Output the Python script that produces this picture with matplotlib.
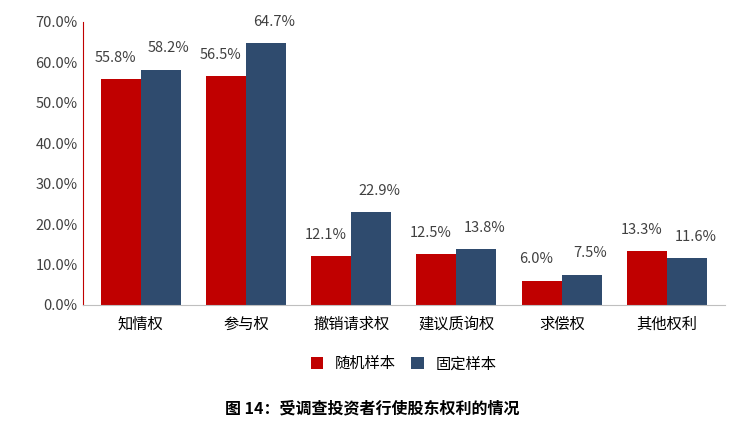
import matplotlib.pyplot as plt
import numpy as np

plt.rcParams['font.family'] = ['Noto Sans CJK SC', 'DejaVu Sans']

categories = ['知情权', '参与权', '撤销请求权', '建议质询权', '求偿权', '其他权利']
random_sample = [55.8, 56.5, 12.1, 12.5, 6.0, 13.3]
fixed_sample = [58.2, 64.7, 22.9, 13.8, 7.5, 11.6]

fig = plt.figure(figsize=(7.45, 4.38), dpi=100)
ax = fig.add_axes([0.111, 0.304, 0.862, 0.646])

x = np.arange(len(categories))
w = 0.38
ax.bar(x - w / 2, random_sample, w, color='#C00000', label='随机样本')
ax.bar(x + w / 2, fixed_sample, w, color='#2F4B6E', label='固定样本')

# value labels
for i, v in enumerate(random_sample):
    ax.text(x[i] - w / 2 - 0.05, v + 3.5, f'{v:.1f}%', ha='center', va='bottom', fontsize=10.5, color='#404040')
for i, v in enumerate(fixed_sample):
    ax.text(x[i] + w / 2 + 0.08, v + 3.5, f'{v:.1f}%', ha='center', va='bottom', fontsize=10.5, color='#404040')

ax.set_ylim(0, 70)
ax.set_xlim(-0.55, 5.55)
ax.set_yticks(np.arange(0, 71, 10))
ax.set_yticklabels([f'{t:.1f}%' for t in np.arange(0, 71, 10)], fontsize=10.5, color='#404040')
ax.set_xticks(x)
ax.set_xticklabels(categories, fontsize=11)
ax.tick_params(axis='x', length=0, pad=8)
ax.tick_params(axis='y', length=0)
for s in ['top', 'right']:
    ax.spines[s].set_visible(False)
ax.spines['left'].set_color('#C00000')
ax.spines['bottom'].set_color('#BFBFBF')

ax.legend(loc='upper center', bbox_to_anchor=(0.5, -0.13), ncol=2, frameon=False,
          fontsize=11, handlelength=0.8, handleheight=0.8, columnspacing=1.0)

fig.text(0.5, 0.055, '图 14：受调查投资者行使股东权利的情况', ha='center', fontsize=11.5, fontweight='bold')

fig.savefig('out.png', dpi=100)
